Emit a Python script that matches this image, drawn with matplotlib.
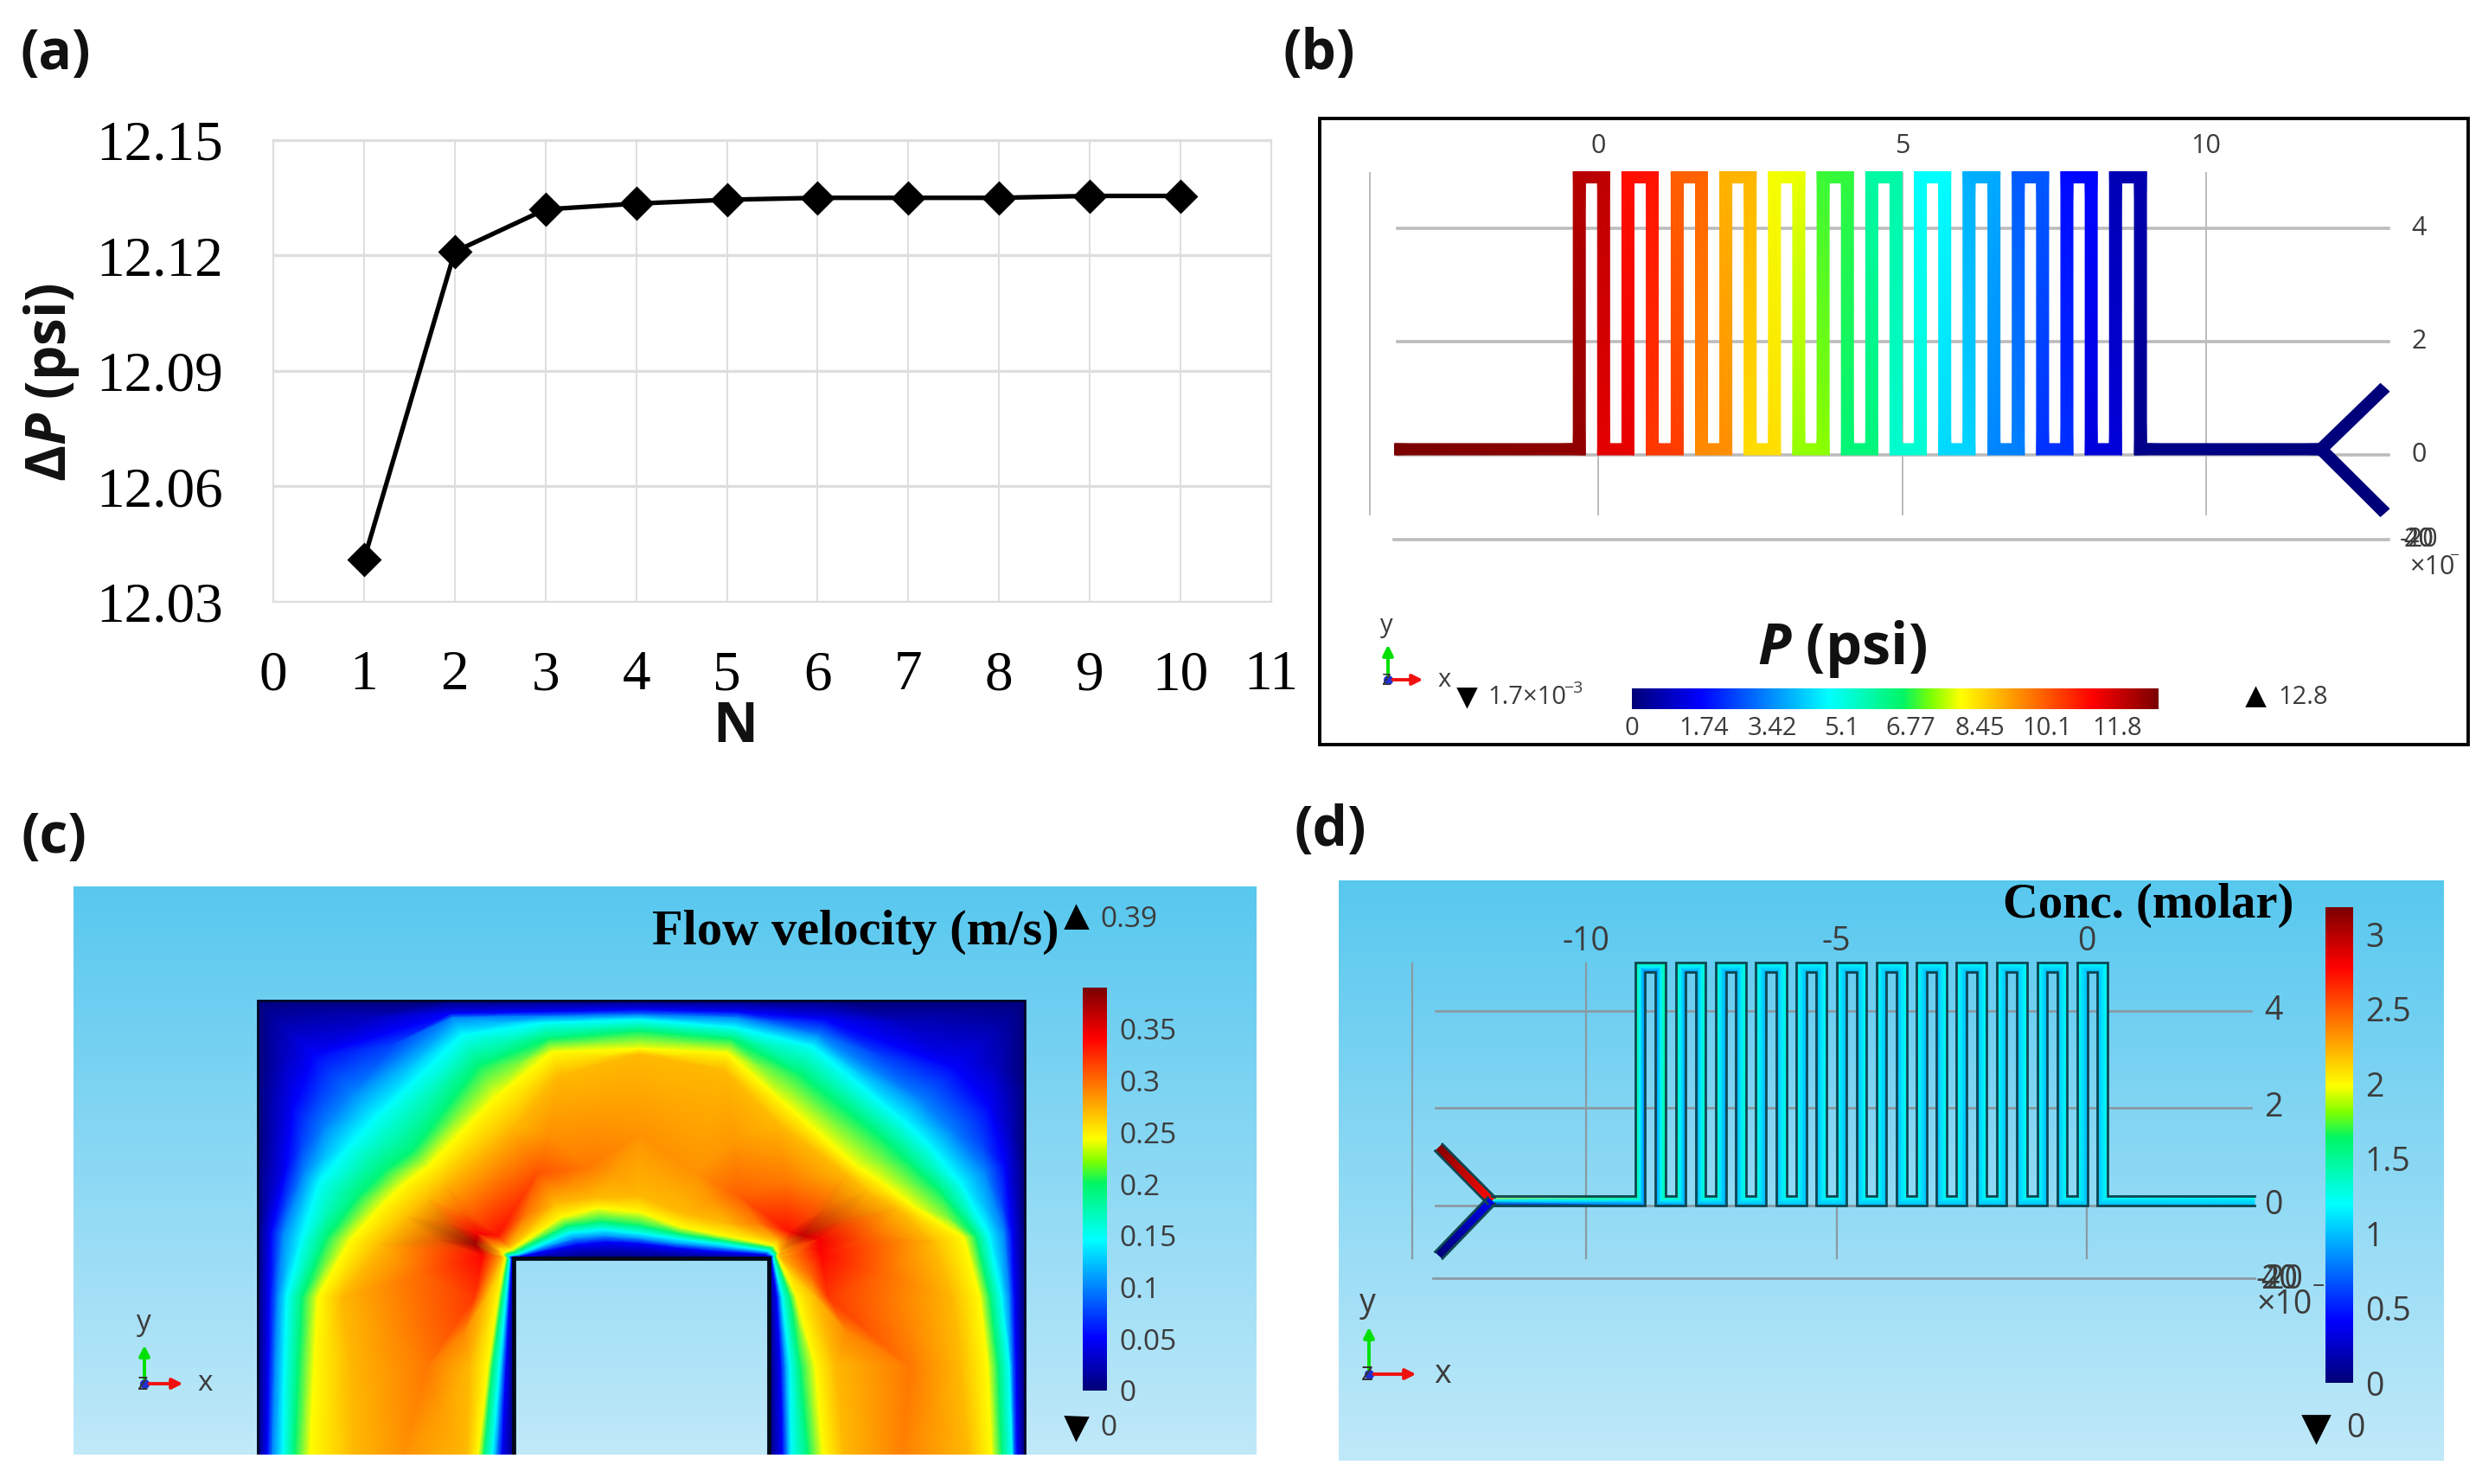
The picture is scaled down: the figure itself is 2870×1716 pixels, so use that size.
import matplotlib

matplotlib.use("Agg")
import matplotlib.pyplot as plt
import numpy as np
from matplotlib.cm import ScalarMappable
from matplotlib.colors import LinearSegmentedColormap, Normalize
from matplotlib.patches import Rectangle

W, H = 2870, 1716
SANS = "Open Sans"
SERIF = "Liberation Serif"
GRID_GRAY = "#bcbcbc"
TEXT_GRAY = "#3c3c3c"
BG_TOP = "#58c8ef"
BG_BOTTOM = "#c0e9f9"

# (a) mesh study
n_elements = [1, 2, 3, 4, 5, 6, 7, 8, 9, 10]
delta_p = [12.041, 12.121, 12.132, 12.1335, 12.1345, 12.135, 12.135, 12.135, 12.1355, 12.1355]
a_yticks = [12.03, 12.06, 12.09, 12.12, 12.15]
a_xticks = [0, 1, 2, 3, 4, 5, 6, 7, 8, 9, 10, 11]

# channel geometry (same chip in b and d, d is mirrored)
leg_x = [-0.31, 0.09, 0.49, 0.89, 1.30, 1.70, 2.10, 2.50, 2.90, 3.30, 3.70, 4.10,
         4.50, 4.90, 5.30, 5.70, 6.10, 6.51, 6.91, 7.31, 7.71, 8.11, 8.51, 8.92]
y_low, y_high = 0.1, 4.9
inlet_x = -3.35
junction_x = 11.89
branch_end_x = 12.94
branch_up_y = 1.19
branch_down_y = -1.02
channel_w = 0.2

# (b) pressure at the channel corners, psi
p_inlet = 12.8
p_up_low = [12.50, 11.48, 10.45, 9.42, 8.40, 7.37, 6.35, 5.32, 4.30, 3.27, 2.25, 1.22]
p_up_high = [12.03, 11.00, 9.98, 8.95, 7.93, 6.90, 5.88, 4.85, 3.83, 2.80, 1.78, 0.75]
p_down_high = [11.99, 10.96, 9.94, 8.91, 7.89, 6.86, 5.84, 4.81, 3.79, 2.76, 1.74, 0.71]
p_down_low = [11.52, 10.49, 9.47, 8.44, 7.42, 6.39, 5.37, 4.34, 3.32, 2.29, 1.27, 0.24]
p_junction = 0.08
p_branch_end = 0.0
b_cbar_ticks = [0, 1.74, 3.42, 5.1, 6.77, 8.45, 10.1, 11.8]
b_cbar_labels = ["0", "1.74", "3.42", "5.1", "6.77", "8.45", "10.1", "11.8"]
p_max = 12.8

# (c) velocity: stations across the U bend, outer wall point -> inner wall point
st_outer_x = [263, 263, 263, 263, 263, 263, 263, 500, 620, 750, 880, 1000, 1242, 1242, 1242, 1242, 1242, 1242, 1242]
st_outer_y = [1528, 1300, 1120, 950, 760, 560, 350, 350, 350, 350, 350, 350, 350, 560, 760, 950, 1120, 1300, 1528]
st_inner_x = [590, 590, 590, 590, 590, 590, 600, 680, 715, 750, 795, 840, 905, 916, 916, 916, 916, 916, 916]
st_inner_y = [1528, 1300, 1120, 1020, 1020, 1020, 1020, 1020, 1020, 1020, 1020, 1020, 1020, 1020, 1020, 1020, 1120, 1300, 1528]
# where each velocity level crosses a station, 0 = outer wall, 1 = inner wall
at_out_005 = [.037, .043, .046, .052, .11, .14, .213, .052, .045, .037, .045, .075, .263, .14, .077, .05, .04, .034, .03]
at_out_010 = [.058, .067, .076, .098, .175, .26, .36, .067, .063, .057, .067, .134, .39, .285, .153, .08, .06, .05, .043]
at_out_015 = [.098, .104, .113, .174, .24, .36, .45, .134, .087, .075, .104, .179, .463, .37, .25, .14, .09, .06, .05]
at_out_020 = [.144, .159, .174, .266, .39, .50, .585, .254, .149, .119, .149, .284, .537, .455, .33, .19, .135, .104, .09]
at_out_024 = [.205, .22, .235, .358, .48, .575, .645, .373, .20, .187, .204, .40, .64, .565, .45, .236, .175, .144, .13]
at_out_027 = [.373, .358, .327, .48, .587, .665, .71, .49, .29, .21, .269, .47, .675, .62, .50, .36, .28, .25, .22]
at_peak = [.57, .66, .847, .88, .85, .86, .91, .67, .65, .52, .67, .76, .895, .87, .807, .80, .77, .45, .48]
at_in_027 = [.817, .83, .893, .955, .945, .94, .955, .79, .765, .761, .828, .865, .933, .957, .96, .957, .82, .742, .71]
at_in_024 = [.862, .90, .939, .968, .96, .965, .965, .84, .805, .82, .88, .91, .95, .967, .97, .967, .895, .82, .79]
at_in_020 = [.884, .917, .954, .977, .97, .975, .975, .875, .858, .873, .906, .928, .96, .975, .978, .975, .92, .88, .85]
at_in_015 = [.917, .945, .97, .985, .98, .985, .985, .90, .888, .903, .925, .943, .97, .983, .985, .985, .95, .92, .914]
at_in_010 = [.935, .958, .978, .989, .985, .989, .989, .925, .915, .925, .945, .958, .978, .988, .989, .989, .961, .94, .932]
at_in_005 = [.954, .97, .985, .993, .99, .993, .993, .947, .937, .943, .96, .973, .985, .992, .993, .993, .972, .957, .95]
peak_vel = [.285, .295, .32, .34, .38, .345, .335, .31, .295, .285, .285, .305, .335, .365, .345, .34, .32, .295, .292]
vel_levels = [0.05, 0.10, 0.146, 0.195, 0.244, 0.27]
vel_max = 0.39
c_cbar_ticks = [0, 0.05, 0.1, 0.15, 0.2, 0.25, 0.3, 0.35]
c_cbar_labels = ["0", "0.05", "0.1", "0.15", "0.2", "0.25", "0.3", "0.35"]

# (d) concentration on both channel walls at the corners, molar
conc_left = [2.1, 1.6, 1.58, 1.52, 1.5, 1.46, 1.44, 1.40, 1.38, 1.36, 1.35, 1.33, 1.32, 1.30, 1.29, 1.28, 1.27]
conc_right = [0.2, 0.72, 0.76, 0.80, 0.82, 0.84, 0.86, 0.88, 0.89, 0.90, 0.91, 0.92, 0.93, 0.94, 0.95, 0.96, 0.97]
conc_left_rest = 1.24
conc_right_rest = 0.98
conc_up_branch = [3.15, 2.75]
conc_down_branch = [0.0, 0.36]
conc_max = 3.18
d_cbar_ticks = [0, 0.5, 1, 1.5, 2, 2.5, 3]
d_cbar_labels = ["0", "0.5", "1", "1.5", "2", "2.5", "3"]

# comsol rainbow in (b)
rainbow_stops = [0.0, 0.13, 0.375, 0.515, 0.57, 0.625, 0.875, 1.0]
rainbow_colors = ["#000078", "#0000ff", "#00ffff", "#00f565", "#80ff00", "#ffff00", "#ff0000", "#7a0000"]


def px_axes(fig, left, top, right, bottom):
    return fig.add_axes([left / W, 1 - bottom / H, (right - left) / W, (bottom - top) / H])


def channel_ax(fig, box, x0, sx, y0, sy):
    # box in pixels, x0/y0 = pixel of data origin, sx/sy = pixels per unit
    left, top, right, bottom = box
    ax = px_axes(fig, left, top, right, bottom)
    ax.set_xlim((left - x0) / sx, (right - x0) / sx)
    ax.set_ylim((y0 - bottom) / sy, (y0 - top) / sy)
    ax.axis("off")
    return ax


def gradient_bg(ax, zorder=0):
    cmap = LinearSegmentedColormap.from_list("bg", [BG_TOP, BG_BOTTOM])
    return ax.imshow(np.linspace(0, 1, 256)[:, None], cmap=cmap, aspect="auto", origin="upper",
                     extent=(*ax.get_xlim(), *ax.get_ylim()), zorder=zorder)


def ribbon_edges(xs, ys, width):
    pts = np.column_stack([xs, ys]).astype(float)
    d = np.diff(pts, axis=0)
    d = d / np.linalg.norm(d, axis=1, keepdims=True)
    nrm = np.column_stack([-d[:, 1], d[:, 0]])
    offs = np.zeros_like(pts)
    offs[0], offs[-1] = nrm[0], nrm[-1]
    for i in range(1, len(pts) - 1):
        m = nrm[i - 1] + nrm[i]
        m = m / np.linalg.norm(m)
        offs[i] = m / np.dot(m, nrm[i])
    return pts + offs * width / 2, pts, pts - offs * width / 2


def draw_ribbon(ax, xs, ys, left_v, right_v, cmap, norm, outline=None, zorder=3):
    lft, mid, rgt = ribbon_edges(xs, ys, channel_w)
    X = np.column_stack([lft[:, 0], mid[:, 0], rgt[:, 0]])
    Y = np.column_stack([lft[:, 1], mid[:, 1], rgt[:, 1]])
    left_v, right_v = np.asarray(left_v), np.asarray(right_v)
    C = np.column_stack([left_v, (left_v + right_v) / 2, right_v])
    ax.pcolormesh(X, Y, C, shading="gouraud", cmap=cmap, norm=norm, zorder=zorder)
    if outline:
        ax.plot(lft[:, 0], lft[:, 1], color=outline, lw=1.0, zorder=zorder + 1, solid_joinstyle="miter")
        ax.plot(rgt[:, 0], rgt[:, 1], color=outline, lw=1.0, zorder=zorder + 1, solid_joinstyle="miter")


def triad(ov, ox, oy, size, lx, ly, fs):
    # comsol axis triad, arrows in overlay pixels
    ov.annotate("", xy=(ox, oy - size), xytext=(ox, oy),
                arrowprops=dict(arrowstyle="-|>", color="#00e000", lw=1.4, mutation_scale=9))
    ov.annotate("", xy=(ox + size, oy), xytext=(ox, oy),
                arrowprops=dict(arrowstyle="-|>", color="#f01010", lw=1.4, mutation_scale=9))
    ov.plot([ox], [oy], "o", color="#2030d0", ms=3.0)
    ov.text(ox - 2, oy, "z", family=SANS, fontsize=fs * 0.8, color="#333333", ha="center", va="center")
    ov.text(ox - 2, ly, "y", family=SANS, fontsize=fs, color=TEXT_GRAY, ha="center", va="center")
    ov.text(lx, oy, "x", family=SANS, fontsize=fs, color=TEXT_GRAY, ha="center", va="center")


plt.rcParams.update({
    "mathtext.fontset": "custom",
    "mathtext.rm": "Open Sans:bold",
    "mathtext.bf": "Open Sans:bold",
    "mathtext.bfit": "Open Sans:italic:bold",
    "mathtext.it": "Open Sans:italic:bold",
})

fig = plt.figure(figsize=(W / 200, H / 200), dpi=200, facecolor="white")
rainbow = LinearSegmentedColormap.from_list("rainbow_comsol", list(zip(rainbow_stops, rainbow_colors)), N=512)

# ---- (a)
ax_a = px_axes(fig, 316, 162, 1470, 696)
ax_a.plot(n_elements, delta_p, "-", color="black", lw=1.9, zorder=3, clip_on=False)
ax_a.plot(n_elements, delta_p, "D", color="black", ms=9.4, zorder=4, clip_on=False)
ax_a.set_xlim(0, 11)
ax_a.set_ylim(12.03, 12.15)
ax_a.set_xticks(a_xticks)
ax_a.set_yticks(a_yticks)
ax_a.set_yticklabels([f"{v:.2f}" for v in a_yticks])
ax_a.grid(axis="x", color="#dedede", lw=0.7)
ax_a.grid(axis="y", color="#dedede", lw=1.2)
ax_a.set_axisbelow(True)
ax_a.tick_params(length=0, labelsize=23.5)
ax_a.tick_params(axis="x", pad=20)
ax_a.tick_params(axis="y", pad=21)
for lab in ax_a.get_xticklabels() + ax_a.get_yticklabels():
    lab.set_family(SERIF)
for spine in ax_a.spines.values():
    spine.set_color("#dedede")

# ---- (b)
ax_b = channel_ax(fig, (1526, 137, 2854, 861), 1848, 70.3, 526, 65.5)
for yv in [4, 2, 0]:
    ax_b.plot([-3.3, 13.0], [yv, yv], color=GRID_GRAY, lw=1.3, zorder=1)
ax_b.plot([-3.35, 13.0], [-1.5, -1.5], color=GRID_GRAY, lw=1.3, zorder=1)
for xv in [0, 5, 10]:
    ax_b.plot([xv, xv], [4.98, -1.06], color=GRID_GRAY, lw=0.7, zorder=1)
ax_b.plot([-3.76, -3.76], [4.98, -1.06], color=GRID_GRAY, lw=0.7, zorder=1)
for xv in [0, 5, 10]:
    ax_b.text(xv, 5.45, str(xv), family=SANS, fontsize=11, color=TEXT_GRAY, ha="center", va="center")
for yv in [4, 2, 0]:
    ax_b.text(13.5, yv, str(yv), family=SANS, fontsize=11, color=TEXT_GRAY, ha="center", va="center")
for s in ["-20", "40", "20"]:
    ax_b.text(13.5, -1.5, s, family=SANS, fontsize=11, color=TEXT_GRAY, ha="center", va="center")
ax_b.text(13.35, -1.98, "×10", family=SANS, fontsize=11, color=TEXT_GRAY, ha="left", va="center")
ax_b.text(14.0, -1.78, "−", family=SANS, fontsize=7, color=TEXT_GRAY, ha="left", va="center")

b_x, b_y, b_p = [inlet_x], [y_low], [p_inlet]
for i in range(12):
    b_x += [leg_x[2 * i], leg_x[2 * i], leg_x[2 * i + 1], leg_x[2 * i + 1]]
    b_y += [y_low, y_high, y_high, y_low]
    b_p += [p_up_low[i], p_up_high[i], p_down_high[i], p_down_low[i]]
b_x.append(junction_x)
b_y.append(y_low)
b_p.append(p_junction)
norm_p = Normalize(0, p_max)
draw_ribbon(ax_b, b_x, b_y, b_p, b_p, rainbow, norm_p)
for yend in [branch_up_y, branch_down_y]:
    vals = [p_junction, p_branch_end]
    draw_ribbon(ax_b, [junction_x, branch_end_x], [y_low, yend], vals, vals, rainbow, norm_p)

cax_b = px_axes(fig, 1887, 796, 2496, 820)
cb_b = fig.colorbar(ScalarMappable(norm_p, rainbow), cax=cax_b, orientation="horizontal", ticks=b_cbar_ticks)
cb_b.set_ticklabels(b_cbar_labels)
cb_b.outline.set_visible(False)
cax_b.tick_params(length=0, labelsize=10.5, labelcolor=TEXT_GRAY, pad=3)
for lab in cax_b.get_xticklabels():
    lab.set_family(SANS)

# ---- (c)
ax_c = px_axes(fig, 85, 1025, 1453, 1682)
ax_c.set_xlim(28, 1538)
ax_c.set_ylim(1528, 55)
ax_c.axis("off")
gradient_bg(ax_c)
n_st = len(st_outer_x)
at_rows = [np.zeros(n_st), at_out_005, at_out_010, at_out_015, at_out_020, at_out_024, at_out_027, at_peak,
           at_in_027, at_in_024, at_in_020, at_in_015, at_in_010, at_in_005, np.ones(n_st)]
at = np.array(at_rows, dtype=float)
vel_rows = [[0.0] * n_st] + [[v] * n_st for v in vel_levels] + [peak_vel] + [[v] * n_st for v in vel_levels[::-1]] + [[0.0] * n_st]
vel = np.array(vel_rows, dtype=float)
ox, oy = np.array(st_outer_x, float), np.array(st_outer_y, float)
ix, iy = np.array(st_inner_x, float), np.array(st_inner_y, float)
mesh_x = ox + at * (ix - ox)
mesh_y = oy + at * (iy - oy)
norm_v = Normalize(0, vel_max)
ax_c.pcolormesh(mesh_x, mesh_y, vel, shading="gouraud", cmap=rainbow, norm=norm_v, zorder=2)
ax_c.plot([590, 590, 916, 916], [1528, 1018, 1018, 1528], color="#000818", lw=1.7, zorder=6, solid_joinstyle="miter")
ax_c.plot([263, 263, 1242, 1242], [1528, 350, 350, 1528], color="#00082a", lw=1.0, zorder=6, solid_joinstyle="miter")

cax_c = px_axes(fig, 1252, 1142, 1280, 1608)
cb_c = fig.colorbar(ScalarMappable(norm_v, rainbow), cax=cax_c, ticks=c_cbar_ticks)
cb_c.set_ticklabels(c_cbar_labels)
cb_c.outline.set_visible(False)
cax_c.tick_params(length=0, labelsize=12, labelcolor=TEXT_GRAY, pad=5)
for lab in cax_c.get_yticklabels():
    lab.set_family(SANS)

# ---- (d)
ax_d = channel_ax(fig, (1548, 1018, 2826, 1689), 2413, 57.9, 1394, 56.3)
gradient_bg(ax_d)
for yv in [4, 2, 0]:
    ax_d.plot([-13.0, 3.29], [yv, yv], color="#8a9aa2", lw=1.0, zorder=1)
ax_d.plot([-13.05, 3.35], [-1.5, -1.5], color="#8a9aa2", lw=1.0, zorder=1)
for xv in [-10, -5, 0]:
    ax_d.plot([xv, xv], [4.98, -1.09], color="#8a9aa2", lw=0.8, zorder=1)
ax_d.plot([-13.47, -13.47], [4.98, -1.09], color="#8a9aa2", lw=0.8, zorder=1)
for xv in [-10, -5, 0]:
    ax_d.text(xv, 5.42, str(xv), family=SANS, fontsize=13.5, color=TEXT_GRAY, ha="center", va="center")
for yv in [4, 2, 0]:
    ax_d.text(3.73, yv, str(yv), family=SANS, fontsize=13.5, color=TEXT_GRAY, ha="center", va="center")
for s in ["-20", "40", "20"]:
    ax_d.text(3.85, -1.53, s, family=SANS, fontsize=13.5, color=TEXT_GRAY, ha="center", va="center")
ax_d.text(3.4, -2.05, "×10", family=SANS, fontsize=13.5, color=TEXT_GRAY, ha="left", va="center")
ax_d.text(4.5, -1.68, "−", family=SANS, fontsize=9, color=TEXT_GRAY, ha="left", va="center")

d_x, d_y = [-junction_x], [y_low]
for i in range(12):
    d_x += [-leg_x[23 - 2 * i], -leg_x[23 - 2 * i], -leg_x[22 - 2 * i], -leg_x[22 - 2 * i]]
    d_y += [y_low, y_high, y_high, y_low]
d_x.append(-inlet_x)
d_y.append(y_low)
n_rest = len(d_x) - len(conc_left)
c_left = conc_left + [conc_left_rest] * n_rest
c_right = conc_right + [conc_right_rest] * n_rest
norm_c = Normalize(0, conc_max)
OUTLINE = "#0f4652"
draw_ribbon(ax_d, d_x, d_y, c_left, c_right, rainbow, norm_c, outline=OUTLINE)
draw_ribbon(ax_d, [-branch_end_x, -junction_x], [branch_up_y, y_low], conc_up_branch, conc_up_branch, rainbow, norm_c, outline=OUTLINE)
draw_ribbon(ax_d, [-branch_end_x, -junction_x], [branch_down_y, y_low], conc_down_branch, conc_down_branch, rainbow, norm_c, outline=OUTLINE)

cax_d = px_axes(fig, 2689, 1049, 2721, 1599)
cb_d = fig.colorbar(ScalarMappable(norm_c, rainbow), cax=cax_d, ticks=d_cbar_ticks)
cb_d.set_ticklabels(d_cbar_labels)
cb_d.outline.set_visible(False)
cax_d.tick_params(length=0, labelsize=13.5, labelcolor=TEXT_GRAY, pad=5)
for lab in cax_d.get_yticklabels():
    lab.set_family(SANS)

# ---- overlay in pixels for labels and other annotations
ov = fig.add_axes([0, 0, 1, 1], zorder=20)
ov.set_xlim(0, W)
ov.set_ylim(H, 0)
ov.axis("off")
ov.patch.set_alpha(0)

for label, lx, ly in [("(a)", 64, 64), ("(b)", 1525, 64), ("(c)", 62, 970), ("(d)", 1538, 962)]:
    ov.text(lx, ly, label, family=SANS, fontweight="bold", fontsize=23, color="#111111", ha="center", va="center")

ov.text(850, 842, "N", family=SANS, fontweight="bold", fontsize=23, color="#111111", ha="center", va="center")
ov.text(60, 442, r"$\mathrm{\Delta}\mathbfit{P}$ (psi)", family=SANS, fontweight="bold", fontsize=23,
        color="#111111", rotation=90, ha="center", va="center")

ov.add_patch(Rectangle((1526, 137), 1328, 724, fill=False, edgecolor="black", lw=1.4))
ov.text(2130, 750, r"$\mathbfit{P}$ (psi)", family=SANS, fontweight="bold", fontsize=24, color="#111111",
        ha="center", va="center")
triad(ov, 1605, 786, 46, 1670, 724, 10.5)
ov.plot([1696], [806], "v", color="black", ms=7)
ov.text(1720, 806, "1.7×10", family=SANS, fontsize=10.5, color=TEXT_GRAY, ha="left", va="center")
ov.text(1808, 796, "−3", family=SANS, fontsize=7, color=TEXT_GRAY, ha="left", va="center")
ov.plot([2608], [806], "^", color="black", ms=7)
ov.text(2634, 806, "12.8", family=SANS, fontsize=10.5, color=TEXT_GRAY, ha="left", va="center")

ov.text(989, 1078, "Flow velocity (m/s)", family=SERIF, fontweight="bold", fontsize=21, color="black",
        ha="center", va="center")
triad(ov, 167, 1600, 50, 237, 1529, 12)
ov.plot([1244], [1060], "^", color="black", ms=9)
ov.text(1272, 1063, "0.39", family=SANS, fontsize=12, color=TEXT_GRAY, ha="left", va="center")
ov.plot([1244], [1651], "v", color="black", ms=9)
ov.text(1272, 1651, "0", family=SANS, fontsize=12, color=TEXT_GRAY, ha="left", va="center")

ov.text(2484, 1047, "Conc. (molar)", family=SERIF, fontweight="bold", fontsize=20.4, color="black",
        ha="center", va="center")
triad(ov, 1583, 1589, 60, 1668, 1507, 13.5)
ov.plot([2678], [1652], "v", color="black", ms=11)
ov.text(2724, 1652, "0", family=SANS, fontsize=13.5, color=TEXT_GRAY, ha="center", va="center")

fig.savefig("out.png", dpi=200)
plt.close(fig)
